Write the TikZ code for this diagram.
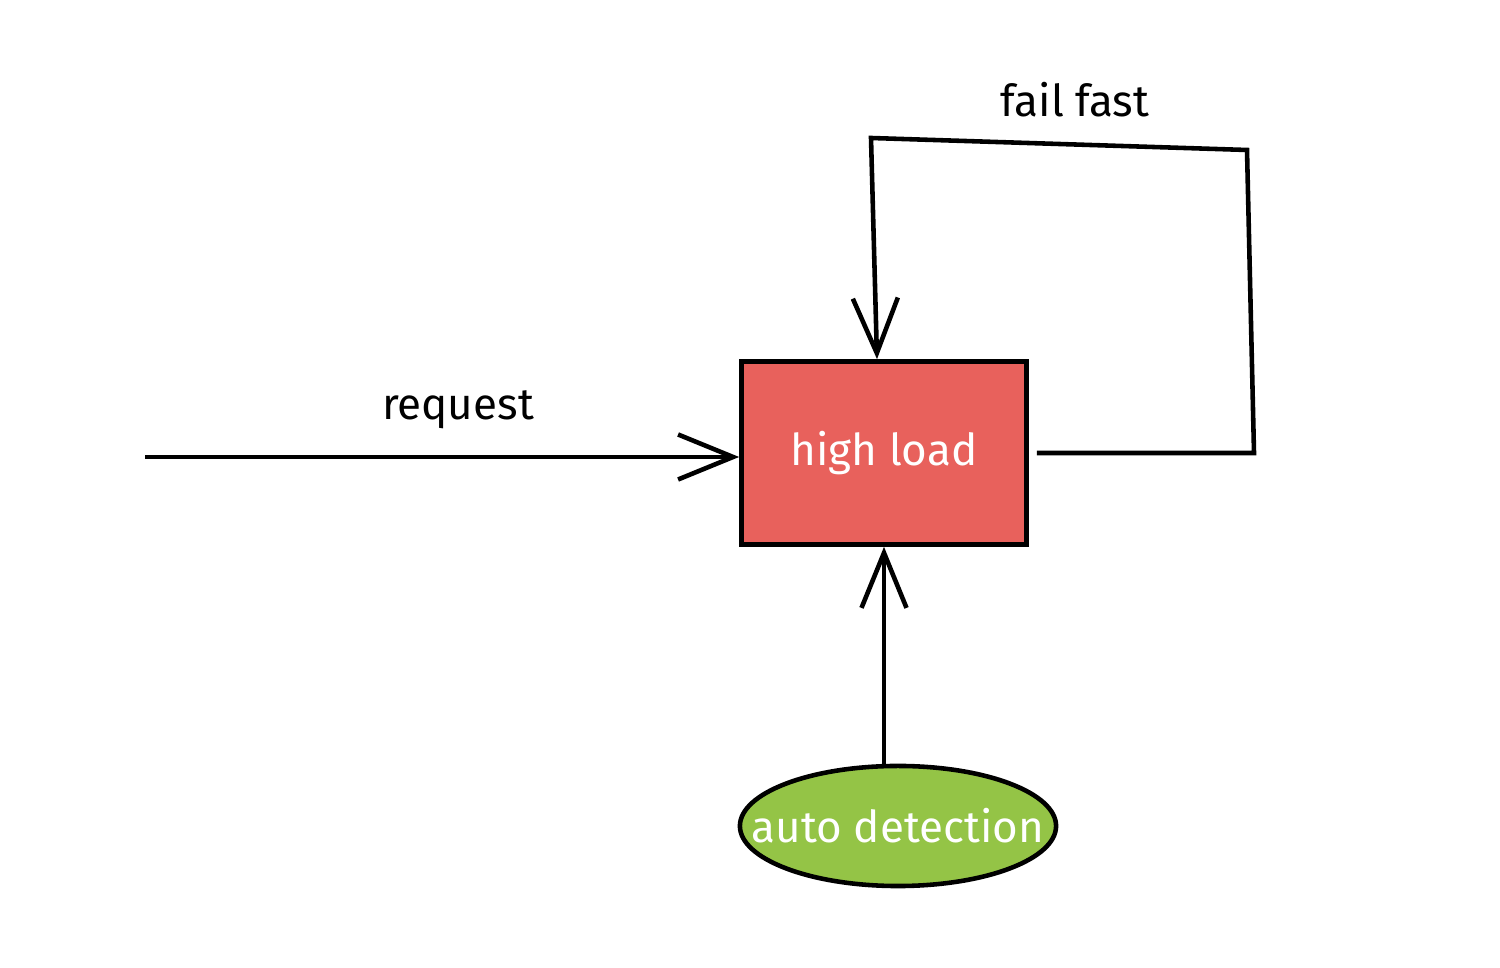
\documentclass[tikz,border=0pt]{standalone}
\usepackage{fontspec}
\setmainfont{Fira Sans}
\usetikzlibrary{arrows.meta,positioning,calc,shapes.geometric}
\definecolor{loadred}{HTML}{E8615C}
\definecolor{detgreen}{HTML}{94C446}
\tikzset{
    >={Straight Barb[length=0.55cm,width=0.45cm]},
    every picture/.style={line width=1.3pt},
    box/.style={rectangle,draw,fill=loadred,text=white,minimum width=2.85cm,minimum height=1.83cm,inner sep=0pt},
    blob/.style={ellipse,draw,fill=detgreen,text=white,minimum width=3.16cm,minimum height=1.2cm,inner xsep=-0.36cm,inner ysep=0pt},
    lbl/.style={text=black}
}

\begin{document}
\begin{tikzpicture}[x=0.01cm,y=-0.01cm,
        every node/.style={font=\fontsize{12.5}{15}\selectfont}]
        \useasboundingbox (0,0) rectangle (1500,968);

        % Blocks
        \node[box] (load) at (884,453) {high load};
        \node[blob] (detect) at (898,826) {auto detection};

        % Incoming request
        \coordinate (req) at (145,457);
        \draw[->] (req) -- (req -| load.west);
        \node[lbl] (reqlbl) at (458,410) {request};

        % Detection
        \draw[->] (load.south |- detect.north) -- (load.south);

        % Fail fast loop
        \coordinate (out) at ($(load.east)+(0.08cm,0)$);
        \coordinate (br) at (1254,453);
        \coordinate (tr) at (1247,150);
        \coordinate (tl) at (871,138);
        \draw[->] (out) -- (br) -- (tr) -- (tl) -- ([xshift=-0.07cm]load.north);
        \node[lbl] (faillbl) at (1075,100) {fail fast};
\end{tikzpicture}
\end{document}
